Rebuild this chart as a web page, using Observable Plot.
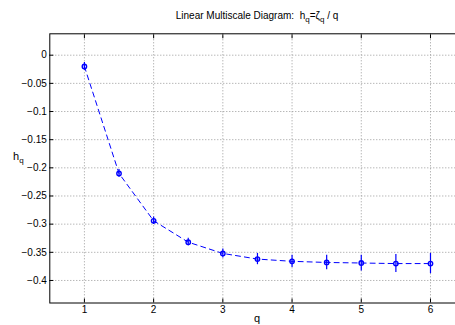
<!DOCTYPE html>
<html>
<head>
<meta charset="utf-8">
<script src="https://cdn.jsdelivr.net/npm/d3@7"></script>
<script src="https://cdn.jsdelivr.net/npm/@observablehq/plot@0.6"></script>
<style>
  html, body { margin: 0; padding: 0; background: white; overflow: hidden; }
  #wrap { position: relative; width: 455px; height: 325px; overflow: hidden; font-family: "Liberation Sans", Arial, sans-serif; }
  .lbl { position: absolute; font-size: 10px; line-height: 10px; white-space: nowrap; color: #000; }
  .lbl sub { font-size: 8px; vertical-align: -3px; line-height: 0; }
</style>
</head>
<body>
<div id="wrap">
  <div id="chart"></div>
  <div class="lbl" style="left:257px; top:11px; transform:translateX(-50%);">Linear Multiscale Diagram:&nbsp; h<sub>q</sub>=ζ<sub>q</sub> / q</div>
  <div class="lbl" style="left:13px; top:151px; font-size:11px;">h<sub>q</sub></div>
  <div class="lbl" style="left:254px; top:313px; font-size:11px;">q</div>
</div>
<script>
const qValues = [1, 1.5, 2, 2.5, 3, 3.5, 4, 4.5, 5, 5.5, 6];
const hValues = [-0.020, -0.210, -0.294, -0.332, -0.352, -0.362, -0.366, -0.368, -0.369, -0.370, -0.370];
const errValues = [0.007, 0.007, 0.0065, 0.007, 0.008, 0.010, 0.011, 0.013, 0.014, 0.016, 0.018];
const xTicks = [1, 2, 3, 4, 5, 6];
const yTicks = [0, -0.05, -0.1, -0.15, -0.2, -0.25, -0.3, -0.35, -0.4];

const data = qValues.map((q, i) => ({q, h: hValues[i], e: errValues[i]}));
const fmt = d3.format("~g");

const chart = Plot.plot({
  width: 455,
  height: 325,
  marginLeft: 49.3,
  marginRight: -9.6,
  marginTop: 33.3,
  marginBottom: 22.5,
  style: {fontFamily: "Liberation Sans, Arial, sans-serif", fontSize: "10px", background: "white", overflow: "hidden"},
  x: {domain: [0.5, 6.5]},
  y: {domain: [-0.44, 0.038]},
  marks: [
    Plot.gridX(xTicks, {stroke: "#999", strokeOpacity: 1, strokeDasharray: "1,2"}),
    Plot.gridY(yTicks, {stroke: "#999", strokeOpacity: 1, strokeDasharray: "1,2"}),
    Plot.axisY(yTicks, {anchor: "left", tickSize: -4, tickPadding: 7, tickFormat: fmt, label: null, stroke: "black", color: "black"}),
    Plot.axisX(xTicks, {anchor: "bottom", tickSize: -4, tickPadding: 7, label: null, stroke: "black"}),
    Plot.axisX(xTicks, {anchor: "top", tickSize: -4, tickFormat: () => "", label: null, stroke: "black"}),
    Plot.frame({stroke: "black", strokeWidth: 1}),
    Plot.line(data, {x: "q", y: "h", stroke: "blue", strokeWidth: 1, strokeDasharray: "5,4"}),
    Plot.ruleX(data, {x: "q", y1: d => d.h - d.e, y2: d => d.h + d.e, stroke: "blue", strokeWidth: 1.2}),
    Plot.dot(data, {x: "q", y: "h", r: 2.2, stroke: "blue", strokeWidth: 1.4, fill: "none"})
  ]
});
document.getElementById("chart").appendChild(chart);
</script>
</body>
</html>
